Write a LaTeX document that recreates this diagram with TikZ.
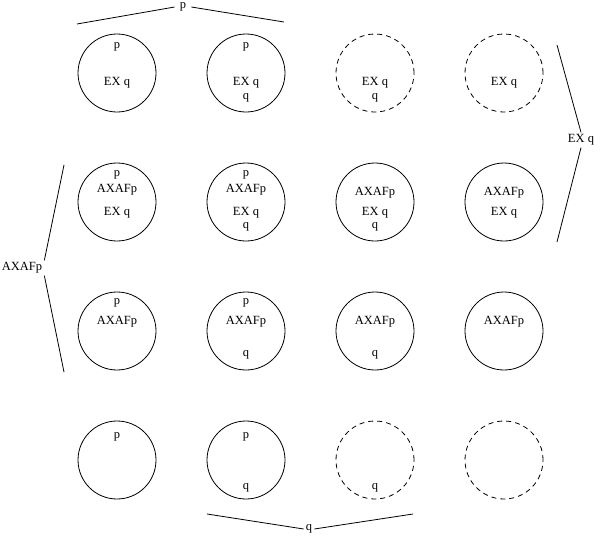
\documentclass[tikz,border=0pt]{standalone}
\usepackage{fontspec}
\setmainfont{Liberation Serif}
\usetikzlibrary{calc}
\begin{document}
\begin{tikzpicture}[x=1pt,y=-1pt,
  st/.style={circle,draw,line width=0.8pt,minimum size=78pt,inner sep=0pt},
  dst/.style={st,dash pattern=on 5pt off 4pt},
  lbl/.style={font=\fontsize{12.5}{14}\selectfont,inner sep=0pt,anchor=base},
  brk/.style={line width=0.8pt},
  blab/.style={font=\fontsize{12.5}{14}\selectfont,inner sep=2pt}]
\useasboundingbox (0,0) rectangle (600,544);
% row 1
\node[st]  (a1) at (117,73) {};
\node[st]  (a2) at (246,73) {};
\node[dst] (a3) at (375,73) {};
\node[dst] (a4) at (504,73) {};
% row 2
\node[st] (b1) at (117,202) {};
\node[st] (b2) at (246,202) {};
\node[st] (b3) at (375,202) {};
\node[st] (b4) at (504,202) {};
% row 3
\node[st] (c1) at (117,331) {};
\node[st] (c2) at (246,331) {};
\node[st] (c3) at (375,331) {};
\node[st] (c4) at (504,331) {};
% row 4
\node[st]  (d1) at (117,460) {};
\node[st]  (d2) at (246,460) {};
\node[dst] (d3) at (375,460) {};
\node[dst] (d4) at (504,460) {};
% texts row 1
\node[lbl] (a1p) at ($(a1)+(0,-25)$) {p};
\node[lbl] (a1e) at ($(a1)+(0,12)$) {EX q};
\node[lbl] (a2p) at ($(a2)+(0,-25)$) {p};
\node[lbl] (a2e) at ($(a2)+(0,12)$) {EX q};
\node[lbl] (a2q) at ($(a2)+(0,26)$) {q};
\node[lbl] (a3e) at ($(a3)+(0,12)$) {EX q};
\node[lbl] (a3q) at ($(a3)+(0,26)$) {q};
\node[lbl] (a4e) at ($(a4)+(0,12)$) {EX q};
% texts row 2
\node[lbl] (b1p) at ($(b1)+(0,-26)$) {p};
\node[lbl] (b1a) at ($(b1)+(0,-10)$) {AXAFp};
\node[lbl] (b1e) at ($(b1)+(0,13)$) {EX q};
\node[lbl] (b2p) at ($(b2)+(0,-26)$) {p};
\node[lbl] (b2a) at ($(b2)+(0,-10)$) {AXAFp};
\node[lbl] (b2e) at ($(b2)+(0,13)$) {EX q};
\node[lbl] (b2q) at ($(b2)+(0,26)$) {q};
\node[lbl] (b3a) at ($(b3)+(0,-7)$) {AXAFp};
\node[lbl] (b3e) at ($(b3)+(0,13)$) {EX q};
\node[lbl] (b3q) at ($(b3)+(0,26)$) {q};
\node[lbl] (b4a) at ($(b4)+(0,-7)$) {AXAFp};
\node[lbl] (b4e) at ($(b4)+(0,13)$) {EX q};
% texts row 3
\node[lbl] (c1p) at ($(c1)+(0,-27)$) {p};
\node[lbl] (c1a) at ($(c1)+(0,-7)$) {AXAFp};
\node[lbl] (c2p) at ($(c2)+(0,-27)$) {p};
\node[lbl] (c2a) at ($(c2)+(0,-7)$) {AXAFp};
\node[lbl] (c2q) at ($(c2)+(0,25)$) {q};
\node[lbl] (c3a) at ($(c3)+(0,-7)$) {AXAFp};
\node[lbl] (c3q) at ($(c3)+(0,25)$) {q};
\node[lbl] (c4a) at ($(c4)+(0,-7)$) {AXAFp};
% texts row 4
\node[lbl] (d1p) at ($(d1)+(0,-22)$) {p};
\node[lbl] (d2p) at ($(d2)+(0,-22)$) {p};
\node[lbl] (d2q) at ($(d2)+(0,29)$) {q};
\node[lbl] (d3q) at ($(d3)+(0,29)$) {q};
% brackets
\node[blab,inner xsep=5pt] (tp) at (183,7) {p};
\coordinate (tpl) at (77,24);
\coordinate (tpr) at (284,22);
\draw[brk] (tpl) -- (tp.west);
\draw[brk] (tp.east) -- (tpr);
\node[blab] (la) at (22,268) {AXAFp};
\coordinate (lat) at (64,165);
\coordinate (lab) at (64,372);
\draw[brk] (lat) -- (la.north east);
\draw[brk] (la.south east) -- (lab);
\node[blab] (re) at (581,140) {EX q};
\coordinate (ret) at (557,45);
\coordinate (reb) at (557,242);
\draw[brk] (ret) -- (re.north);
\draw[brk] (re.south) -- (reb);
\node[blab] (bq) at (309,529) {q};
\coordinate (bql) at (207,514);
\coordinate (bqr) at (413,514);
\draw[brk] (bql) -- (bq.west);
\draw[brk] (bq.east) -- (bqr);
\end{tikzpicture}
\end{document}
